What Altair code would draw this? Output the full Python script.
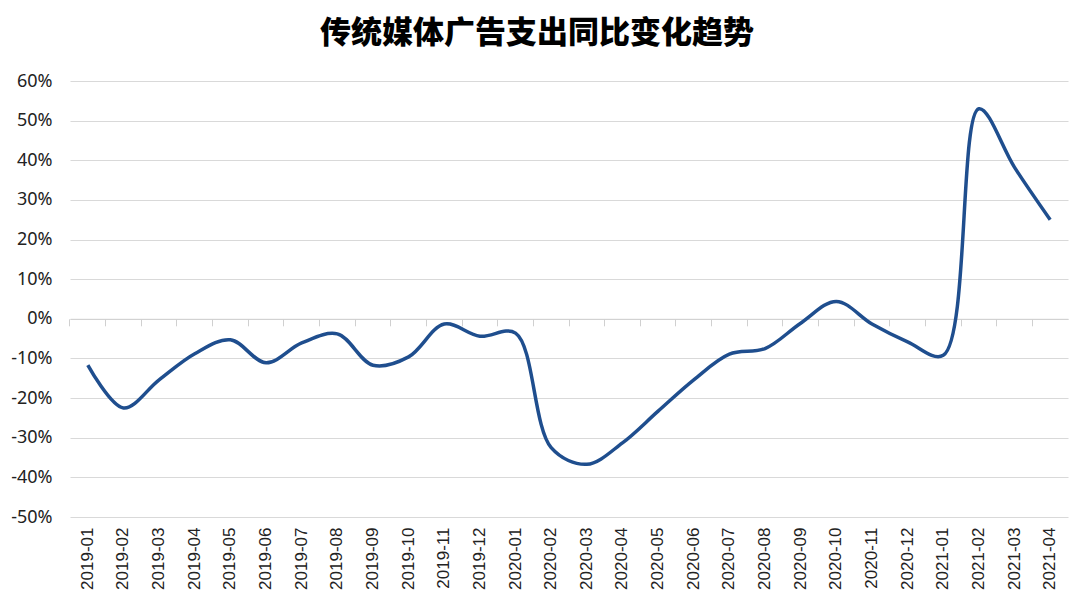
import altair as alt
import pandas as pd

months = [
    "2019-01", "2019-02", "2019-03", "2019-04", "2019-05", "2019-06",
    "2019-07", "2019-08", "2019-09", "2019-10", "2019-11", "2019-12",
    "2020-01", "2020-02", "2020-03", "2020-04", "2020-05", "2020-06",
    "2020-07", "2020-08", "2020-09", "2020-10", "2020-11", "2020-12",
    "2021-01", "2021-02", "2021-03", "2021-04",
]
values = [
    -11.7, -22.5, -15.4, -8.8, -5.3, -11.1,
    -6.1, -3.8, -11.7, -9.6, -1.3, -4.4,
    -3.6, -32.5, -36.7, -31.3, -23.3, -15.4,
    -8.9, -7.5, -1.1, 4.4, -1.3, -5.8,
    -9.2, 53.0, 38.2, 25.0,
]
y_ticks = [-50, -40, -30, -20, -10, 0, 10, 20, 30, 40, 50, 60]
title_text = "传统媒体广告支出同比变化趋势"

df = pd.DataFrame({"month": months, "pct": values})

xscale = alt.Scale(type="band", paddingInner=0, paddingOuter=0, domain=months)
yscale = alt.Scale(domain=[-50, 60], nice=False, zero=False)

yaxis = alt.Axis(title=None, values=y_ticks, ticks=False,
                 labelExpr="datum.value + '%'",
                 domain=False, grid=True, gridColor="#d9d9d9", gridWidth=1,
                 labelFont="Noto Sans", labelFontSize=18, labelColor="#222222",
                 labelPadding=18, labelOverlap=False)

line = alt.Chart(df).mark_line(
    color="#1F4E8E", strokeWidth=3.5, interpolate="catmull-rom"
).encode(
    x=alt.X("month:N", scale=xscale, bandPosition=0.5, sort=months,
            axis=alt.Axis(title=None, labelAngle=-90, ticks=False, domain=False,
                          grid=False, labelFont="Liberation Sans", labelFontSize=17,
                          labelColor="#222222", labelPadding=10, labelOverlap=False)),
    y=alt.Y("pct:Q", scale=yscale, axis=yaxis),
)

# invisible layer that carries the category-boundary tick axis drawn on the 0% line
zero_axis = alt.Chart(df).mark_line(opacity=0).encode(
    x=alt.X("month:N", scale=xscale, sort=months,
            axis=alt.Axis(title=None, labels=False, ticks=True, tickSize=7,
                          tickColor="#d0d0d0", domain=True, domainColor="#d0d0d0",
                          grid=False, bandPosition=0, orient="bottom",
                          offset=-198.2)),
    y=alt.Y("pct:Q", scale=yscale, axis=yaxis),
)

chart = alt.layer(line, zero_axis).resolve_axis(x="independent").properties(
    width=998,
    height=436,
    autosize=alt.AutoSizeParams(type="none"),
    padding={"left": 62, "top": 73, "right": 4, "bottom": 83},
    title=alt.TitleParams(
        text=title_text, font="Noto Sans CJK SC", fontSize=31, fontWeight=900,
        color="#000000", anchor="middle", dx=-32, offset=22,
    ),
).configure(background="white").configure_view(strokeWidth=0)

chart.save("out.html", embed_options={"renderer": "svg", "actions": False})
